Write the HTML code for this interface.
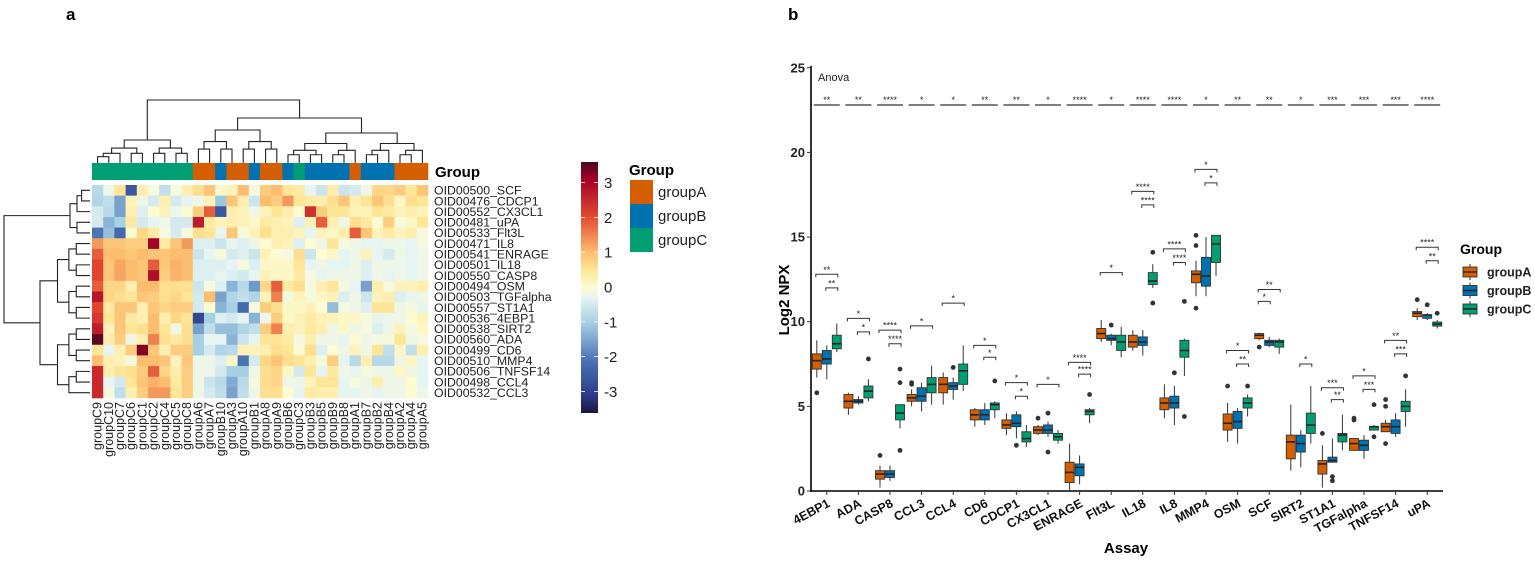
<!DOCTYPE html>
<html><head><meta charset="utf-8">
<style>
html,body{margin:0;padding:0;background:#fff;}
svg{display:block;font-family:"Liberation Sans",Arial,sans-serif;}
</style></head>
<body>
<svg id="fig" width="1535" height="561" viewBox="0 0 1535 561" xmlns="http://www.w3.org/2000/svg">
<defs>
<linearGradient id="cbar" x1="0" y1="1" x2="0" y2="0">
<stop offset="0" stop-color="#1a1738"/>
<stop offset="0.07" stop-color="#2c3a8c"/>
<stop offset="0.21" stop-color="#4a74b4"/>
<stop offset="0.36" stop-color="#a6d0e4"/>
<stop offset="0.46" stop-color="#e6f4f2"/>
<stop offset="0.5" stop-color="#fdfbd2"/>
<stop offset="0.57" stop-color="#fee697"/>
<stop offset="0.64" stop-color="#fdbd6f"/>
<stop offset="0.79" stop-color="#e0452f"/>
<stop offset="0.93" stop-color="#a50026"/>
<stop offset="1" stop-color="#4a0a1c"/>
</linearGradient>
</defs>
<text x="66" y="20" font-size="17" font-weight="bold">a</text>
<text x="788" y="20" font-size="17" font-weight="bold">b</text>
<g id="heat"></g>
<g id="box"></g>
</svg>
<script>
// ---------- Heatmap data ----------
const heatRows = ["OID00500_SCF","OID00476_CDCP1","OID00552_CX3CL1","OID00481_uPA","OID00533_Flt3L","OID00471_IL8","OID00541_ENRAGE","OID00501_IL18","OID00550_CASP8","OID00494_OSM","OID00503_TGFalpha","OID00557_ST1A1","OID00536_4EBP1","OID00538_SIRT2","OID00560_ADA","OID00499_CD6","OID00510_MMP4","OID00506_TNFSF14","OID00498_CCL4","OID00532_CCL3"];
const heatCols = ["groupC9","groupC10","groupC7","groupC6","groupC1","groupC2","groupC4","groupC5","groupC8","groupA6","groupA7","groupB10","groupA3","groupA10","groupB1","groupA8","groupA9","groupB6","groupC3","groupB3","groupB5","groupB9","groupB8","groupA1","groupB7","groupB2","groupB4","groupA2","groupA4","groupA5"];
const heatVals = [
[-0.8,-0.2,0.5,-2.5,0.3,-0.1,-0.7,-0.1,0.3,0.6,0.9,0.1,0.2,1.0,-0.1,0.8,1.0,0.5,0.4,-0.3,-0.6,0.3,-0.6,-0.5,-0.2,0.7,0.7,0.8,0.5,0.9],
[-0.9,-0.7,-1.5,0.2,-0.2,-0.5,0.3,-0.5,-0.3,-0.2,0.2,-1.1,0.9,0.3,-0.6,1.0,0.8,1.3,0.5,0.4,0.3,0.6,0.9,0.3,0.5,0.9,0.6,0.1,0.6,0.5],
[-0.5,-0.8,-1.5,0.3,-0.4,0,0.2,-0.2,0,0.8,1.8,-2.5,0.3,0.2,-0.2,0.2,0.5,0.3,0,2.3,0.8,0.5,0.5,0.2,0.2,0.5,0.4,0.2,0.3,0.2],
[-0.5,-1.3,-1.0,0.4,-0.5,-0.3,-0.2,-0.5,-0.5,2.6,0.4,0.2,0.3,0.2,0.1,0.4,0.3,0.2,-0.4,0.2,1.8,0.3,-0.2,0.6,0.4,0,0.8,-0.1,0.1,0.5],
[-2.0,-1.2,-2.2,0,0.7,0.4,-0.1,-0.5,-0.1,0.6,0.5,-0.3,0.9,-0.1,0.2,0.6,0.3,0.3,0.2,-0.3,0.2,0.1,0.3,1.8,0.9,0.2,0.4,0.2,0.3,-0.1],
[1.3,0.9,0.9,0.8,0.8,3.0,0.4,0.9,1.3,-0.4,-0.4,-0.6,-0.3,-0.4,-0.2,0,0.3,0.2,-0.4,0,-0.2,0.5,-0.1,-0.2,-0.3,-0.3,-0.2,-0.2,-0.3,-0.1],
[1.8,1.0,1.0,0.9,1.0,0.9,0.9,1.0,1.0,-0.6,-0.3,-0.1,-0.5,-0.4,-0.6,0.2,0,-0.1,0.6,-0.6,0,0.1,-0.3,-0.2,0.2,-0.3,-0.5,-0.2,-0.3,-0.2],
[2.0,0.9,1.2,1.0,0.9,1.8,0.9,1.1,1.0,-0.4,-0.4,-0.4,-0.3,-0.1,-0.4,0.1,0.1,0.1,0.5,-0.3,-0.2,-0.3,-0.3,-0.2,-0.4,-0.2,-0.2,-0.2,-0.3,-0.2],
[2.0,0.9,1.2,1.0,0.9,2.8,0.8,1.1,1.0,-0.4,-0.4,-0.3,-0.4,-0.5,-0.3,0.2,0.1,0.1,0.4,-0.1,-0.3,-0.2,-0.2,-0.2,-0.4,-0.2,-0.3,-0.2,-0.3,-0.2],
[1.8,0.7,0.7,0.3,1.0,1.0,0.6,0.6,0.6,-0.6,-0.1,-0.4,-1.3,-0.8,-1.6,0.7,1.8,0.4,0.6,-0.1,0.3,0.5,-0.1,-0.3,-1.5,0.3,-0.1,0.2,0.2,0.3],
[2.7,0.7,0.6,0.5,0.9,0.8,0.6,0.7,0.5,-0.5,1.0,-1.5,-0.9,-0.7,-0.9,0.2,1.5,-0.1,0.2,-0.1,0.1,0.2,-0.4,-0.2,-0.6,0.2,0.3,-0.4,-0.3,-0.2],
[2.0,0.4,0.9,0.9,0.3,0.9,0.7,0.8,0.8,-0.5,0,-1.3,-1.0,-2.2,-0.1,0.8,0.6,0.1,0.1,0.2,0,-1.2,-0.1,-0.2,-0.4,0.5,0.5,-0.2,-0.1,-0.3],
[2.2,0.5,0.9,0.4,0.3,1.0,0.3,0.7,0.5,-2.8,-1.0,-0.4,-0.5,-0.3,-1.3,-0.2,0.8,0.1,0.2,0.4,0.2,0.2,0.1,0.1,-0.1,-0.3,-0.2,-0.2,0,0.2],
[2.6,0.2,0.9,0.5,0.6,1.0,0.5,-0.2,0.6,-1.5,-0.7,-1.2,-1.2,-0.9,-0.7,0.8,1.5,0.3,0.2,0.4,0.3,-0.2,0.1,-0.2,-0.1,-0.4,-0.2,0.2,-0.1,0.1],
[3.4,0.3,0.8,-0.2,0.3,1.5,0.6,0.4,0.6,-1.0,-0.3,-0.3,-1.3,-0.6,-0.3,0.5,0.5,0.4,-0.1,0.3,-0.2,-0.2,-0.3,0,-0.2,-0.1,-0.1,0.5,-0.2,-0.1],
[0.5,-0.3,0.3,0.8,3.2,0.9,0.3,0.8,0.8,-1.0,-0.5,-0.9,-0.8,0.2,0.2,0.3,0.6,0.5,0,0.6,-0.4,0,-0.2,0.2,-0.2,0.5,-0.7,0.1,-0.7,0.3],
[1.0,0.3,0.2,-0.1,1.0,1.0,0.9,0.2,0.9,-0.2,-0.2,-0.4,0.1,-2.0,-0.5,0.7,0.9,0.6,0.5,0.3,-0.1,0.8,-0.3,-0.8,0.3,-0.8,-0.8,-0.2,0.1,-0.3],
[2.4,0.3,0.5,0.6,0.8,1.8,0.7,0.3,0.8,-0.2,-0.2,-0.5,-1.0,-1.0,-0.2,0.6,0.7,0.1,-0.5,0.5,-0.3,0.4,-0.2,-0.3,-0.1,-0.2,-0.2,0.1,-0.2,-0.3],
[2.4,-0.3,-0.5,0.5,0.9,1.1,1.0,0.4,0.8,-0.2,-0.6,-0.8,-1.4,-0.8,-0.1,0.6,0.7,-0.2,-0.2,0.2,0.5,0.5,-0.3,-0.1,-0.2,0.3,-0.2,-0.2,0,-0.3],
[2.4,-0.1,-0.7,0.3,0.8,1.3,1.3,0.5,0.8,-0.2,-0.5,-0.7,-1.5,-0.7,-0.2,0.6,0.6,0,-0.3,0.4,0.3,0.3,-0.3,-0.3,-0.2,-0.3,-0.2,-0.2,0,-0.2]];
const scaleTicks = [3,2,1,0,-1,-2,-3];

// ---------- Boxplot data ----------
const assays = ["4EBP1","ADA","CASP8","CCL3","CCL4","CD6","CDCP1","CX3CL1","ENRAGE","Flt3L","IL18","IL8","MMP4","OSM","SCF","SIRT2","ST1A1","TGFalpha","TNFSF14","uPA"];
const groups = ["groupA","groupB","groupC"];
const groupColors = ["#d55e00","#0072b2","#009e73"];
const yTicks = [0,5,10,15,20,25];
// [whiskLo, q1, median, q3, whiskHi] per assay, per group
const statsA = [[6.7,7.2,7.7,8.1,8.9],[4.5,4.9,5.3,5.7,5.8],[0.2,0.7,1.0,1.2,1.5],[5.0,5.3,5.5,5.7,6.0],[5.1,5.8,6.3,6.7,7.0],[3.8,4.2,4.5,4.8,4.9],[3.3,3.7,3.9,4.2,4.6],[3.3,3.4,3.6,3.8,3.9],[0,0.5,1.1,1.7,2.8],[8.8,9.0,9.3,9.6,10.1],[8.3,8.5,8.8,9.2,9.5],[4.3,4.8,5.2,5.5,6.3],[11.5,12.3,12.8,13.0,13.6],[2.9,3.6,4.0,4.55,5.2],[8.9,9.0,9.2,9.3,9.35],[1.2,1.9,2.9,3.3,5.1],[0.2,1.0,1.6,1.8,2.7],[2.4,2.4,2.8,3.1,3.1],[3.5,3.5,3.8,4.0,4.2],[10.1,10.3,10.5,10.6,10.8]];
const statsB = [[6.6,7.5,7.8,8.3,8.6],[5.1,5.2,5.3,5.4,5.6],[0.6,0.8,1.0,1.2,1.5],[4.7,5.3,5.6,6.1,6.4],[5.4,6.0,6.2,6.4,6.7],[3.9,4.2,4.5,4.8,5.2],[3.1,3.8,4.0,4.5,4.7],[3.2,3.4,3.6,3.9,4.1],[0.4,0.9,1.4,1.6,2.1],[8.6,8.9,9.0,9.2,9.3],[8.0,8.6,8.8,9.1,9.5],[3.9,4.9,5.2,5.6,6.2],[11.5,12.1,12.7,13.8,15.0],[2.8,3.7,4.1,4.7,4.9],[8.5,8.6,8.8,8.9,9.1],[1.4,2.3,2.8,3.3,3.6],[1.7,1.7,1.8,2.0,3.1],[1.9,2.4,2.7,3.0,3.3],[3.2,3.4,3.8,4.2,4.6],[10.1,10.2,10.4,10.4,10.5]];
const statsC = [[8.2,8.4,8.7,9.2,9.9],[5.3,5.5,5.9,6.2,6.6],[3.7,4.2,4.6,5.1,5.1],[5.1,5.8,6.3,6.7,7.4],[5.9,6.3,7.1,7.5,8.6],[4.3,4.8,5.1,5.2,5.3],[2.6,2.9,3.1,3.5,3.9],[2.8,3.0,3.2,3.4,3.6],[4.0,4.5,4.7,4.8,4.9],[7.9,8.3,8.8,9.2,9.7],[12.0,12.2,12.4,12.9,13.4],[6.8,7.9,8.3,8.9,9.0],[12.7,13.5,14.6,15.1,15.1],[4.4,4.9,5.2,5.5,5.7],[8.1,8.5,8.8,8.9,9.0],[2.8,3.4,3.9,4.6,6.2],[2.4,2.9,3.3,3.4,4.5],[3.6,3.6,3.8,3.8,3.9],[3.8,4.7,5.0,5.3,6.0],[9.6,9.74,9.86,9.98,10.1]];
const outA = [[5.8],[],[2.1],[6.4,6.3],[],[],[],[4.3],[],[],[],[],[15.1,14.5,10.8],[6.2],[8.5],[],[3.4],[4.3,4.2],[5.4,5.0,2.8],[11.3]];
const outB = [[],[],[],[],[7.3],[],[2.7],[4.6,2.3],[],[9.8],[],[6.98],[],[],[],[],[0.85,0.6],[],[],[11.0]];
const outC = [[],[7.8],[7.2,6.4,2.4],[],[],[6.5],[],[],[5.7],[],[14.1,11.1],[11.2,4.4],[],[6.2],[],[],[],[5.1,3.2],[6.8],[10.5]];
const anovaLabels = ["**","**","****","*","*","**","**","*","****","*","****","****","*","**","**","*","***","***","***","****"];
// pairwise brackets: assay index, from group, to group, y value, label
const brAssay = [0,0,1,1,2,2,3,4,5,5,6,6,7,8,8,9,10,10,11,11,12,12,13,13,14,14,15,16,16,17,17,18,18,19,19];
const brFrom  = [0,1,0,1,0,1,0,0,0,1,0,1,0,0,1,0,0,1,0,1,0,1,0,1,0,0,1,0,1,0,1,0,1,0,1];
const brTo    = [2,2,2,2,2,2,2,2,2,2,2,2,2,2,2,2,2,2,2,2,2,2,2,2,2,1,2,2,2,2,2,2,2,2,2];
const brY     = [12.8,12.0,10.2,9.4,9.5,8.7,9.75,11.1,8.6,7.9,6.4,5.6,6.3,7.6,6.9,12.9,17.7,16.9,14.3,13.5,19.0,18.2,8.3,7.5,11.9,11.2,7.5,6.1,5.4,6.8,6.0,8.9,8.1,14.4,13.6];
const brLab   = ["**","**","*","*","****","****","*","*","*","*","*","*","*","****","****","*","****","****","****","****","*","*","*","**","**","*","*","***","**","*","***","**","***","****","**"];

const NS = "http://www.w3.org/2000/svg";
function mk(parent, tag, attrs, txt){
  const e = document.createElementNS(NS, tag);
  for (const k in attrs) e.setAttribute(k, attrs[k]);
  if (txt !== undefined) e.textContent = txt;
  parent.appendChild(e);
  return e;
}

// ===== Heatmap =====
(function(){
  const g = document.getElementById('heat');
  const x0 = 92, y0 = 185, cw = 11.2, rh = 10.65;
  const stops = [[-3.5,[26,23,56]],[-3,[44,58,140]],[-2,[74,116,180]],[-1,[166,208,228]],[-0.3,[230,244,242]],[0,[253,251,210]],[0.5,[254,230,151]],[1,[253,189,111]],[2,[224,69,47]],[3,[165,0,38]],[3.5,[74,10,28]]];
  function col(v){
    if (v <= stops[0][0]) v = stops[0][0];
    if (v >= 3.5) v = 3.5;
    for (let i=0;i<stops.length-1;i++){
      const a=stops[i], b=stops[i+1];
      if (v>=a[0] && v<=b[0]){
        const t=(v-a[0])/(b[0]-a[0]);
        const c=a[1].map((q,j)=>Math.round(q+(b[1][j]-q)*t));
        return `rgb(${c[0]},${c[1]},${c[2]})`;
      }
    }
    return '#fff';
  }
  const gcol = {A:"#d55e00",B:"#0072b2",C:"#009e73"};
  heatCols.forEach((c,j)=>{
    const r = mk(g,'rect',{x:x0+j*cw,y:163,width:cw+0.3,height:17,fill:gcol[c.charAt(5)]});
    
    
    const t = mk(g,'text',{transform:`translate(${x0+j*cw+cw/2+4},${y0+20*rh+4}) rotate(-90)`,'text-anchor':'end','font-size':'12.5',fill:'#222'},c);
    
    
  });
  heatVals.forEach((row,i)=>{
    row.forEach((v,j)=>{
      const r = mk(g,'rect',{x:x0+j*cw,y:y0+i*rh,width:cw+0.3,height:rh+0.3,fill:col(v)});
      
      
    });
    const t = mk(g,'text',{x:434,y:y0+i*rh+rh/2+4.3,'font-size':'12.3',fill:'#222'},heatRows[i]);
    
    
  });
  const gt = mk(g,'text',{x:435,y:177,'font-size':'15','font-weight':'bold'},'Group');
  
  

  // top dendrogram
  const dg = mk(g,'g',{stroke:'#222','stroke-width':'1.1',fill:'none'});
  
  
  function cx(j){return x0+j*cw+cw/2;}
  function tree(lo,hi,top,bot){ // returns x center of node
    if (lo===hi){ return cx(lo); }
    const mid = Math.floor((lo+hi)/2);
    const h = top + (bot-top)*0.35;
    const xl = tree(lo,mid,h,bot), xr = tree(mid+1,hi,h,bot);
    const hl = lo===mid?bot:h, hr = mid+1===hi?bot:h;
    mk(dg,'path',{d:`M${xl},${hl}V${top}H${xr}V${hr}`});
    return (xl+xr)/2;
  }
  const topBot = 163;
  const xg = tree(0,8,140,topBot);
  const xo1 = tree(9,16,130,topBot);
  const xo2 = tree(17,29,133,topBot);
  mk(dg,'path',{d:`M${xo1},130V118H${xo2}V133`});
  const xr = (xo1+xo2)/2;
  mk(dg,'path',{d:`M${xg},140V100H${xr}V118`});
  // left dendrogram
  const lg = mk(g,'g',{stroke:'#222','stroke-width':'1.1',fill:'none'});
  
  
  function ry(i){return y0+i*rh+rh/2;}
  function ltree(lo,hi,left,right){
    if (lo===hi) return ry(lo);
    const mid = Math.floor((lo+hi)/2);
    const h = left + (right-left)*0.35;
    const yl = ltree(lo,mid,h,right), yr = ltree(mid+1,hi,h,right);
    const hl = lo===mid?right:h, hr = mid+1===hi?right:h;
    mk(lg,'path',{d:`M${hl},${yl}H${left}V${yr}H${hr}`});
    return (yl+yr)/2;
  }
  const ya = ltree(0,4,70,90);
  const yb = ltree(5,19,40,90);
  mk(lg,'path',{d:`M70,${ya}H4V${yb}H40`});

  // color scale
  const cb = mk(g,'rect',{x:581,y:162,width:17,height:251,fill:'url(#cbar)'});
  
  
  scaleTicks.forEach(v=>{
    const y = 287 - v*34.8;
    mk(g,'line',{x1:581,x2:585,y1:y,y2:y,stroke:'#fff','stroke-width':'0.8'});
    mk(g,'line',{x1:594,x2:598,y1:y,y2:y,stroke:'#fff','stroke-width':'0.8'});
    const t = mk(g,'text',{x:604,y:y+5.5,'font-size':'15',fill:'#222'},v<0?('-'+Math.abs(v)):String(v));
    
    
  });
  const lt = mk(g,'text',{x:629,y:175,'font-size':'15','font-weight':'bold'},'Group');
  
  
  ["groupA","groupB","groupC"].forEach((n,i)=>{
    const r = mk(g,'rect',{x:630,y:180+i*24,width:23,height:24,fill:["#d55e00","#0072b2","#009e73"][i]});
    
    
    const t = mk(g,'text',{x:658,y:197+i*24,'font-size':'15',fill:'#222'},n);
    
    
  });
})();

// ===== Boxplot =====
(function(){
  const g = document.getElementById('box');
  const xL = 811, xR = 1443, y0px = 491, pxPer = 16.93;
  const step = (xR-xL)/assays.length;
  const X = i => xL + step*(i+0.5);
  const Y = v => y0px - v*pxPer;
  const off = [-10,0,10], bw = 9;
  // axes
  const ya = mk(g,'line',{x1:xL,x2:xL,y1:Y(25)-2,y2:y0px+1,stroke:'#000','stroke-width':'1.6'});
  
  
  const xa = mk(g,'line',{x1:xL-1,x2:xR,y1:y0px,y2:y0px,stroke:'#000','stroke-width':'1.6'});
  
  
  yTicks.forEach(v=>{
    mk(g,'line',{x1:xL-4,x2:xL,y1:Y(v),y2:Y(v),stroke:'#333','stroke-width':'1'});
    const t = mk(g,'text',{x:xL-6,y:Y(v)+4.5,'text-anchor':'end','font-size':'13','font-weight':'bold',fill:'#222'},String(v));
    
    
  });
  assays.forEach((a,i)=>{
    mk(g,'line',{x1:X(i),x2:X(i),y1:y0px,y2:y0px+4,stroke:'#333','stroke-width':'1'});
    const t = mk(g,'text',{transform:`translate(${X(i)+4},${y0px+15}) rotate(-28)`,'text-anchor':'end','font-size':'12.5','font-weight':'bold',fill:'#111'},a);
    
    
  });
  const yt = mk(g,'text',{transform:`translate(789,300) rotate(-90)`,'text-anchor':'middle','font-size':'15','font-weight':'bold'},'Log2 NPX');
  
  
  const xt = mk(g,'text',{x:1126,y:553,'text-anchor':'middle','font-size':'15','font-weight':'bold'},'Assay');
  
  
  const an = mk(g,'text',{x:xL+7,y:Y(25)+13,'font-size':'11',fill:'#222'},'Anova');
  
  
  // anova markers
  anovaLabels.forEach((l,i)=>{
    const ln = mk(g,'line',{x1:X(i)-13,x2:X(i)+13,y1:Y(22.8),y2:Y(22.8),stroke:'#333','stroke-width':'1.3'});
    
    
    const t = mk(g,'text',{x:X(i),y:Y(22.8)-2,'text-anchor':'middle','font-size':'9',fill:'#222'},l);
    
    
  });
  // boxes
  const all = [statsA,statsB,statsC], outs=[outA,outB,outC];
  assays.forEach((a,i)=>{
    for (let k=0;k<3;k++){
      const s = all[k][i], cx = X(i)+off[k];
      const w = mk(g,'line',{x1:cx,x2:cx,y1:Y(s[0]),y2:Y(s[4]),stroke:'#333','stroke-width':'1'});
      
      
      const b = mk(g,'rect',{x:cx-bw/2,y:Y(s[3]),width:bw,height:Math.max(1,Y(s[1])-Y(s[3])),fill:groupColors[k],stroke:'#333','stroke-width':'0.9'});
      
      
      const m = mk(g,'line',{x1:cx-bw/2,x2:cx+bw/2,y1:Y(s[2]),y2:Y(s[2]),stroke:'#222','stroke-width':'1.6'});
      
      
      outs[k][i].forEach(v=>{
        const c = mk(g,'circle',{cx:cx,cy:Y(v),r:2.4,fill:'#333'});
        
        
      });
    }
  });
  // brackets
  brAssay.forEach((ai,n)=>{
    const x1 = X(ai)+off[brFrom[n]]-1, x2 = X(ai)+off[brTo[n]]+1, y = Y(brY[n]);
    const p = mk(g,'path',{d:`M${x1},${y+3}V${y}H${x2}V${y+3}`,stroke:'#333','stroke-width':'1',fill:'none'});
    
    
    const t = mk(g,'text',{x:(x1+x2)/2,y:y-1.5,'text-anchor':'middle','font-size':'9',fill:'#222'},brLab[n]);
    
    
  });
  // legend
  const lt = mk(g,'text',{x:1460,y:254,'font-size':'14','font-weight':'bold'},'Group');
  
  
  groups.forEach((n,k)=>{
    const y = 272 + k*18.5;
    mk(g,'line',{x1:1470,x2:1470,y1:y-8,y2:y+8,stroke:'#333','stroke-width':'1'});
    const r = mk(g,'rect',{x:1463,y:y-5,width:14,height:10,fill:groupColors[k],stroke:'#333','stroke-width':'0.9'});
    
    
    mk(g,'line',{x1:1463,x2:1477,y1:y,y2:y,stroke:'#222','stroke-width':'1.4'});
    const t = mk(g,'text',{x:1487,y:y+4.5,'font-size':'12.5','font-weight':'bold',fill:'#222'},n);
    
    
  });
})();
</script>
</body></html>
